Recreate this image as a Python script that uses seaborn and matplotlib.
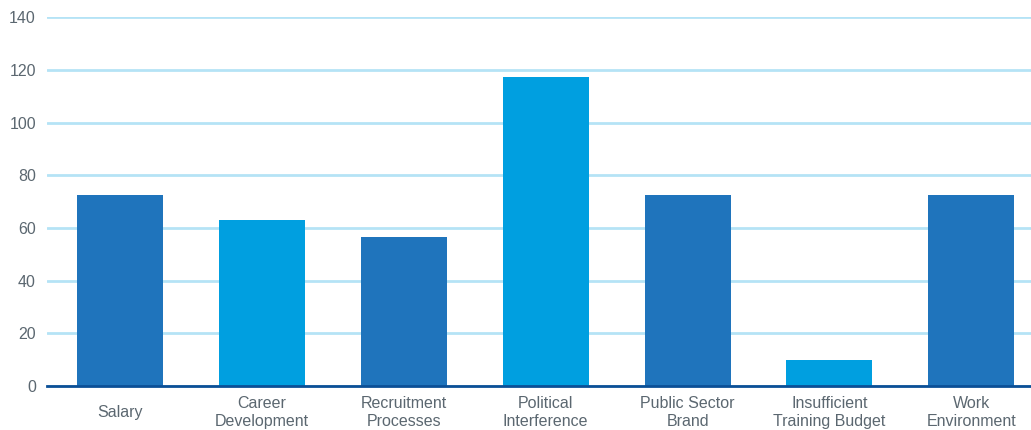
import matplotlib
matplotlib.use("Agg")
import matplotlib.pyplot as plt
import seaborn as sns
import pandas as pd

categories = ["Salary", "Career\nDevelopment", "Recruitment\nProcesses", "Political\nInterference",
              "Public Sector\nBrand", "Insufficient\nTraining Budget", "Work\nEnvironment"]
values = [72.5, 63, 56.5, 117.3, 72.5, 10, 72.5]
bar_colors = ["#1f74bc", "#009fe0", "#1f74bc", "#009fe0", "#1f74bc", "#009fe0", "#1f74bc"]
y_ticks = [0, 20, 40, 60, 80, 100, 120, 140]

sns.set_theme(style="white")
plt.rcParams["font.family"] = ["Liberation Sans", "DejaVu Sans"]

df = pd.DataFrame({"category": categories, "value": values})

fig = plt.figure(figsize=(10.31, 4.30), dpi=100)
ax = fig.add_axes([47 / 1031, 1 - 386 / 430, 1 - 47 / 1031, (386 - 17.3) / 430])

sns.barplot(data=df, x="category", y="value", hue="category", palette=bar_colors,
            legend=False, width=0.606, saturation=1, linewidth=0, ax=ax, zorder=3)

ax.set_ylim(0, 140)
ax.set_xlim(-0.514, 6.42)
ax.set_yticks(y_ticks)
ax.set_yticklabels([str(t) for t in y_ticks])
ax.yaxis.grid(True, color="#b5e3f6", linewidth=2, zorder=0)
ax.set_axisbelow(True)
for side in ["top", "right", "left"]:
    ax.spines[side].set_visible(False)
ax.spines["bottom"].set_color("#0b4f96")
ax.spines["bottom"].set_linewidth(2)
ax.spines["bottom"].set_zorder(4)

ax.set_xlabel("")
ax.set_ylabel("")
ax.tick_params(axis="y", length=0, pad=8, labelsize=11.5, labelcolor="#5b6770")
ax.tick_params(axis="x", length=0, pad=19, labelsize=11.5, labelcolor="#5b6770")
for lbl in ax.get_xticklabels():
    lbl.set_verticalalignment("center")
    lbl.set_linespacing(1.25)

fig.savefig("out.png", dpi=100)
